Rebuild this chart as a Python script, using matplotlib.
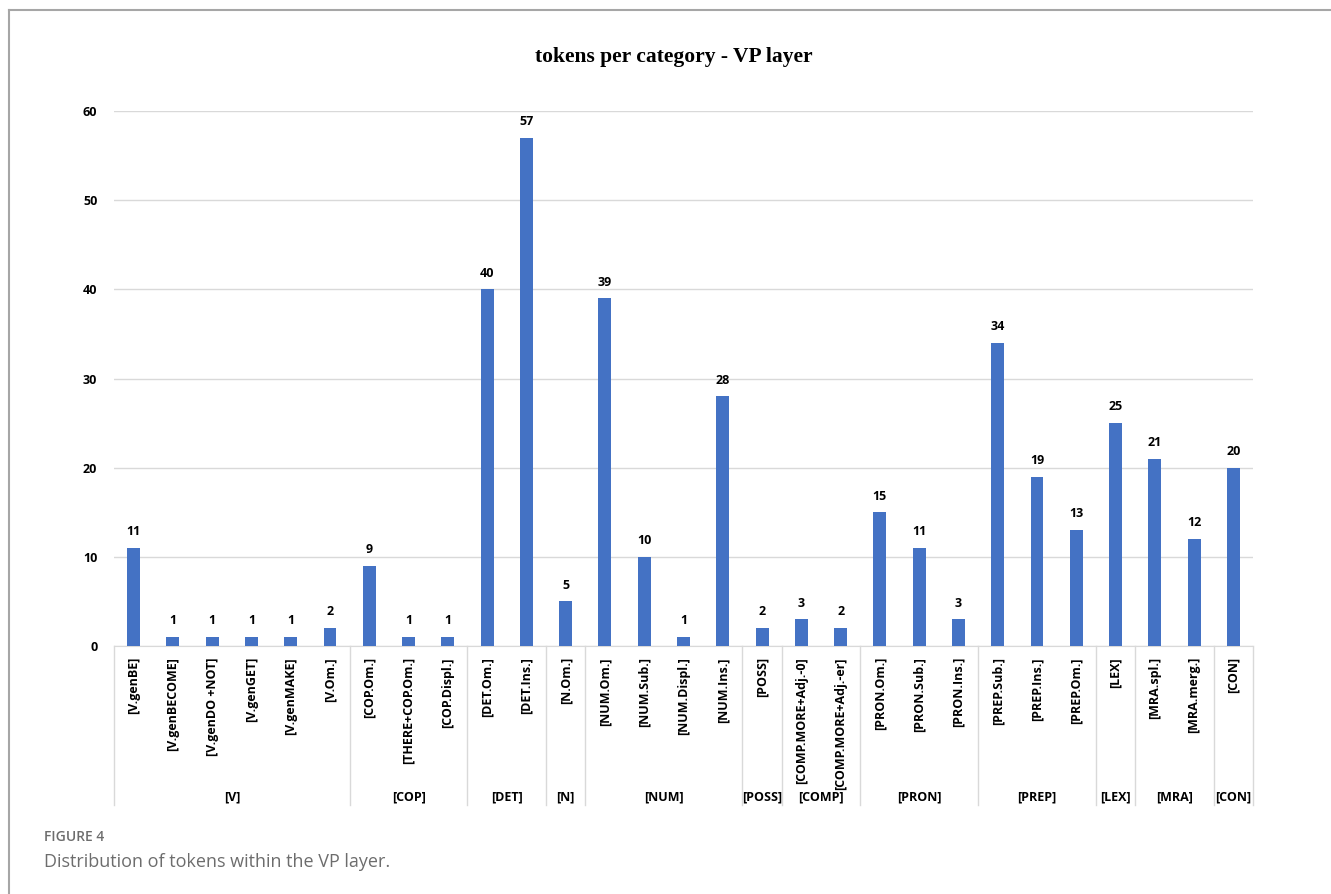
import matplotlib.pyplot as plt
from matplotlib.lines import Line2D
import matplotlib.transforms as mtransforms
import numpy as np

# categories, grouped by parent tag
groups = ['[V]', '[COP]', '[DET]', '[N]', '[NUM]', '[POSS]', '[COMP]',
          '[PRON]', '[PREP]', '[LEX]', '[MRA]', '[CON]']
group_sizes = [6, 3, 2, 1, 4, 1, 2, 3, 3, 1, 2, 1]
labels = ['[V.genBE]', '[V.genBECOME]', '[V.genDO +NOT]', '[V.genGET]',
          '[V.genMAKE]', '[V.Om.]',
          '[COP.Om.]', '[THERE+COP.Om.]', '[COP.Displ.]',
          '[DET.Om.]', '[DET.Ins.]',
          '[N.Om.]',
          '[NUM.Om.]', '[NUM.Sub.]', '[NUM.Displ.]', '[NUM.Ins.]',
          '[POSS]',
          '[COMP.MORE+Adj.-0]', '[COMP.MORE+Adj.-er]',
          '[PRON.Om.]', '[PRON.Sub.]', '[PRON.Ins.]',
          '[PREP.Sub.]', '[PREP.Ins.]', '[PREP.Om.]',
          '[LEX]',
          '[MRA.spl.]', '[MRA.merg.]',
          '[CON]']
tokens = [11, 1, 1, 1, 1, 2,
          9, 1, 1,
          40, 57,
          5,
          39, 10, 1, 28,
          2,
          3, 2,
          15, 11, 3,
          34, 19, 13,
          25,
          21, 12,
          20]

W, H = 1331, 894
fig = plt.figure(figsize=(W / 100, H / 100), dpi=100)
plt.rcParams['font.family'] = ['Open Sans', 'DejaVu Sans']

ax = fig.add_axes([114 / W, 1 - 646 / H, (1253 - 114) / W, (646 - 111) / H])
x = np.arange(len(tokens))
ax.bar(x, tokens, width=0.33, color='#4472C4', zorder=3)
ax.set_xlim(-0.5, len(tokens) - 0.5)
ax.set_ylim(0, 60)
ax.set_yticks(range(0, 61, 10))
ax.yaxis.grid(True, color='#d9d9d9', linewidth=1)
ax.set_axisbelow(True)
for s in ['top', 'right', 'left']:
    ax.spines[s].set_visible(False)
ax.spines['bottom'].set_color('#d9d9d9')
ax.tick_params(axis='y', length=0, pad=12, labelsize=9)
ax.tick_params(axis='x', length=0, pad=8, labelsize=9)
for t in ax.get_yticklabels():
    t.set_fontweight('bold')
ax.set_xticks(x)
ax.set_xticklabels(labels, rotation=90, va='top', ha='center', fontweight='bold')

# value labels
for xi, v in zip(x, tokens):
    ax.annotate(str(v), (xi, v), xytext=(0, 7), textcoords='offset points',
                ha='center', va='bottom', fontsize=9, fontweight='bold')

# grouped category axis
trans = mtransforms.blended_transform_factory(ax.transData, ax.transAxes)
depth = -(805 - 646) / (646 - 111)
edges = np.concatenate([[0], np.cumsum(group_sizes)]) - 0.5
for e in edges:
    ax.add_line(Line2D([e, e], [0, depth], transform=trans, color='#d9d9d9',
                       linewidth=1, clip_on=False))
label_y = -(797 - 646) / (646 - 111)
for g, a, b in zip(groups, edges[:-1], edges[1:]):
    ax.text((a + b) / 2, label_y, g, transform=trans, ha='center', va='center',
            fontsize=9, fontweight='bold')

fig.text(674 / W, 1 - 57 / H, 'tokens per category - VP layer', ha='center',
         va='center', fontsize=15.5, fontweight='bold', family='Liberation Serif')

# frame and caption
fig.add_artist(Line2D([9 / W, 1], [1 - 10 / H, 1 - 10 / H], color='#a6a6a6',
                      linewidth=1.5, transform=fig.transFigure))
fig.add_artist(Line2D([9 / W, 9 / W], [0, 1 - 10 / H], color='#a6a6a6',
                      linewidth=1.5, transform=fig.transFigure))
fig.text(44 / W, 1 - 837 / H, 'FIGURE 4', ha='left', va='center', fontsize=10,
         color='#6d6d6d', fontweight='semibold')
fig.text(44 / W, 1 - 862 / H, 'Distribution of tokens within the VP layer.',
         ha='left', va='center', fontsize=13, color='#6d6d6d')

fig.savefig('out.png', dpi=100)
